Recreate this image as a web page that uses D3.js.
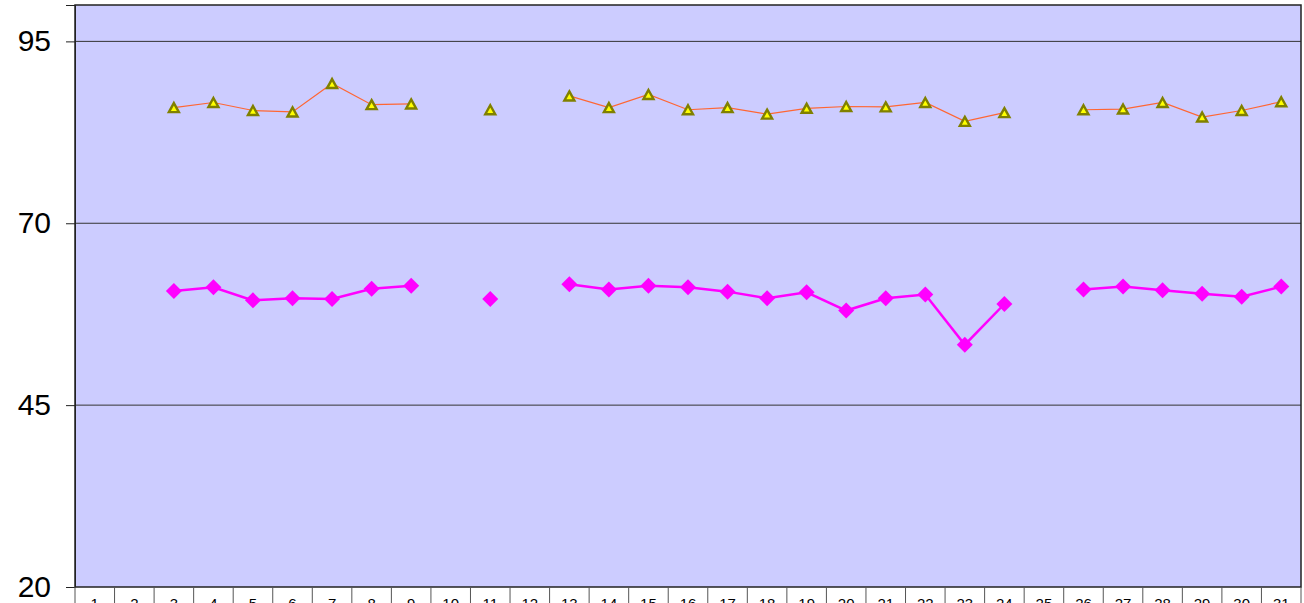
<!DOCTYPE html>
<html>
<head>
<meta charset="utf-8">
<script src="https://cdn.jsdelivr.net/npm/d3@7"></script>
<style>
  body { margin: 0; background: #fff; }
  svg { display: block; }
</style>
</head>
<body>
<svg id="chart" width="1304" height="603"></svg>
<script>
// categories 1..31, null = no reading that day
const days = d3.range(1, 32);
const upper = [null, null, 85.9, 86.6, 85.5, 85.3, 89.2, 86.3, 86.4, null,
               85.6, null, 87.5, 85.9, 87.7, 85.6, 85.9, 85.0, 85.8, 86.05,
               86.0, 86.6, 84.0, 85.2, null, 85.6, 85.7, 86.6, 84.6, 85.5, 86.7];
const lower = [null, null, 60.7, 61.2, 59.4, 59.7, 59.6, 61.0, 61.4, null,
               59.6, null, 61.6, 60.9, 61.4, 61.2, 60.6, 59.7, 60.5, 58.0,
               59.7, 60.2, 53.3, 58.9, null, 60.9, 61.3, 60.8, 60.3, 59.9, 61.3];
const yTicks = [20, 45, 70, 95];

const svg = d3.select("#chart");
const plotLeft = 75, plotRight = 1301, plotTop = 5, plotBottom = 587;

const x = d3.scaleBand().domain(days).range([plotLeft, plotRight]);
const y = d3.scaleLinear().domain([20, 100]).range([plotBottom, plotTop]);

// plot background
svg.append("rect")
    .attr("x", plotLeft).attr("y", plotTop)
    .attr("width", plotRight - plotLeft).attr("height", plotBottom - plotTop)
    .attr("fill", "#ccccff");

// gridlines
svg.append("g")
    .selectAll("line")
    .data(yTicks.filter(d => d > 20))
    .enter()
    .append("line")
    .attr("x1", plotLeft).attr("x2", plotRight)
    .attr("y1", d => y(d)).attr("y2", d => y(d))
    .attr("stroke", "#333")
    .attr("stroke-width", 1);

// plot border
svg.append("rect")
    .attr("x", plotLeft).attr("y", plotTop)
    .attr("width", plotRight - plotLeft).attr("height", plotBottom - plotTop)
    .attr("fill", "none")
    .attr("stroke", "#222")
    .attr("stroke-width", 1.5);

// y axis
const yAxis = svg.append("g")
    .attr("transform", `translate(${plotLeft},0)`)
    .call(d3.axisLeft(y).tickValues(yTicks).tickSize(9).tickPadding(15));
yAxis.select(".domain").attr("stroke", "#222");
yAxis.selectAll("line").attr("stroke", "#222");
yAxis.selectAll("text")
    .attr("font-family", "Arial, 'Liberation Sans', sans-serif")
    .attr("font-size", 30)
    .attr("fill", "#000");

// category cells below the plot (cut by the picture edge, as in the original)
const xAxis = svg.append("g")
    .attr("transform", `translate(0,${plotBottom})`);
xAxis.selectAll("line")
    .data(days.concat([32]))
    .enter()
    .append("line")
    .attr("x1", d => d <= 31 ? x(d) : plotRight)
    .attr("x2", d => d <= 31 ? x(d) : plotRight)
    .attr("y1", 0).attr("y2", 30)
    .attr("stroke", "#555");
xAxis.selectAll("text")
    .data(days)
    .enter()
    .append("text")
    .attr("x", d => x(d) + x.bandwidth() / 2)
    .attr("y", 22)
    .attr("text-anchor", "middle")
    .attr("font-family", "Arial, 'Liberation Sans', sans-serif")
    .attr("font-size", 15)
    .text(d => d);

// lines
const line = d3.line()
    .defined(d => d.v !== null)
    .x(d => x(d.day) + x.bandwidth() / 2)
    .y(d => y(d.v));

const upperData = days.map((d, i) => ({day: d, v: upper[i]}));
const lowerData = days.map((d, i) => ({day: d, v: lower[i]}));

svg.append("path")
    .datum(lowerData)
    .attr("d", line)
    .attr("fill", "none")
    .attr("stroke", "#ff00ff")
    .attr("stroke-width", 2.5);

svg.append("path")
    .datum(upperData)
    .attr("d", line)
    .attr("fill", "none")
    .attr("stroke", "#ff6633")
    .attr("stroke-width", 1.2);

// markers
svg.append("g")
    .selectAll("path")
    .data(lowerData.filter(d => d.v !== null))
    .enter()
    .append("path")
    .attr("d", d3.symbol(d3.symbolSquare, 128)())
    .attr("transform", d => `translate(${x(d.day) + x.bandwidth() / 2},${y(d.v)}) rotate(45)`)
    .attr("fill", "#ff00ff");

// triangle centred on its box, like the spreadsheet marker
const tri = "M0,-4.5L5,4.5L-5,4.5Z";
svg.append("g")
    .selectAll("path")
    .data(upperData.filter(d => d.v !== null))
    .enter()
    .append("path")
    .attr("d", tri)
    .attr("transform", d => `translate(${x(d.day) + x.bandwidth() / 2},${y(d.v)})`)
    .attr("fill", "#ffff00")
    .attr("stroke", "#808000")
    .attr("stroke-width", 2.4)
    .attr("stroke-linejoin", "miter");
</script>
</body>
</html>
